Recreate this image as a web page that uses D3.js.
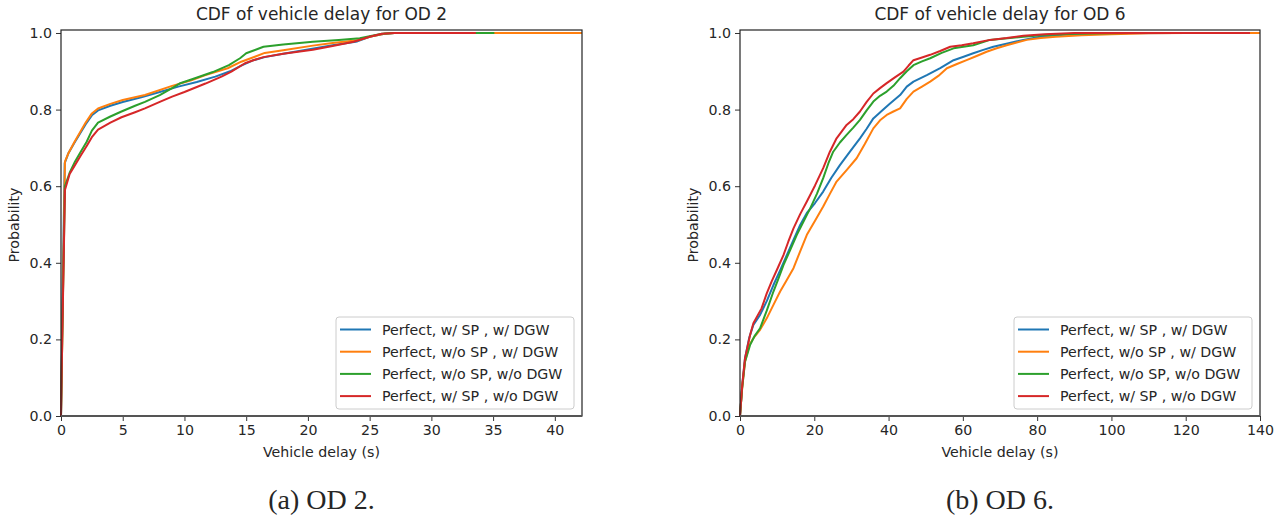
<!DOCTYPE html>
<html>
<head>
<meta charset="utf-8">
<script src="https://cdn.jsdelivr.net/npm/d3@7"></script>
<style>
  html, body { margin: 0; padding: 0; background: #fff; }
  svg { display: block; }
  text { fill: #262626; }
</style>
</head>
<body>
<svg id="fig" width="1281" height="521"></svg>
<script>
// Series labels and colours (shared by both panels)
const seriesNames = [
  "Perfect, w/ SP , w/ DGW",
  "Perfect, w/o SP , w/ DGW",
  "Perfect, w/o SP, w/o DGW",
  "Perfect, w/ SP , w/o DGW"
];
const seriesColors = ["#1f77b4", "#ff7f0e", "#2ca02c", "#d62728"];

// OD 2: empirical CDF points [delay (s), probability]
const od2SpDgw = [[0,0],[0.12,0.3],[0.3,0.66],[0.6,0.686],[1.1,0.714],[2.0,0.762],[2.5,0.785],[3.0,0.798],[4.0,0.81],[5.0,0.82],[6.5,0.832],[8.0,0.846],[9.5,0.86],[11,0.872],[12.5,0.886],[13.7,0.9],[14.6,0.915],[15.5,0.928],[16.5,0.937],[18,0.946],[20,0.957],[22,0.968],[24,0.978],[25,0.99],[26.2,0.998],[27,1.0],[36.4,1.0]];
const od2NoSpDgw = [[0,0],[0.15,0.3],[0.32,0.664],[0.6,0.686],[1.1,0.716],[2.0,0.766],[2.5,0.79],[3.0,0.803],[4.0,0.815],[5.0,0.825],[6.8,0.838],[9.0,0.862],[10.5,0.876],[11.7,0.89],[13.5,0.908],[14.6,0.925],[15.7,0.938],[16.5,0.948],[18,0.955],[20.4,0.967],[22,0.974],[24.2,0.982],[25,0.99],[26.2,0.998],[27,1.0],[42.2,1.0]];
const od2NoSpNoDgw = [[0,0],[0.15,0.3],[0.32,0.6],[0.7,0.635],[1.13,0.664],[1.6,0.69],[2.08,0.716],[2.5,0.745],[3.0,0.766],[4.0,0.782],[4.9,0.795],[6.0,0.81],[6.8,0.82],[8,0.838],[9.0,0.856],[9.6,0.868],[10.85,0.882],[12.3,0.898],[13.6,0.916],[14.5,0.934],[15.0,0.947],[16.4,0.964],[18,0.97],[20.4,0.977],[22.5,0.982],[24.2,0.986],[25.2,0.993],[26,0.998],[27,1.0],[35.1,1.0]];
const od2SpNoDgw = [[0,0],[0.1,0.2],[0.32,0.59],[0.7,0.632],[1.13,0.655],[1.6,0.68],[2.08,0.705],[2.5,0.728],[3.0,0.748],[4.0,0.766],[4.9,0.78],[6.0,0.793],[6.8,0.803],[8,0.82],[9.0,0.834],[10,0.846],[11.7,0.868],[13.0,0.886],[13.8,0.899],[14.9,0.921],[15.7,0.93],[16.4,0.937],[18,0.946],[20.4,0.956],[22,0.966],[23.7,0.977],[25,0.99],[26,0.998],[27,1.0],[33.6,1.0]];

// OD 6: empirical CDF points [delay (s), probability]
const od6SpDgw = [[0,0],[0.6,0.08],[1.35,0.151],[2.5,0.205],[3.6,0.238],[5.4,0.264],[7.2,0.3],[9.0,0.342],[10.8,0.38],[12.6,0.42],[14.4,0.46],[16.2,0.499],[18.0,0.53],[20.2,0.556],[22.4,0.586],[24.6,0.622],[26.9,0.655],[29.6,0.69],[32.3,0.725],[34.1,0.75],[35.9,0.777],[38.2,0.797],[40.4,0.816],[43.1,0.838],[44.9,0.86],[46.7,0.873],[50.3,0.89],[53.9,0.908],[57.5,0.929],[60.2,0.938],[62.8,0.947],[65.5,0.956],[68.2,0.964],[72.3,0.973],[76.3,0.982],[80.8,0.99],[88,0.996],[100,0.999],[118,1.0]];
const od6NoSpDgw = [[0,0],[0.6,0.075],[1.35,0.142],[2.5,0.185],[3.6,0.203],[5.4,0.225],[7.2,0.255],[9.0,0.29],[10.8,0.325],[12.6,0.355],[14.4,0.386],[16.2,0.43],[18.0,0.473],[20.2,0.51],[22.4,0.547],[24.2,0.58],[26.0,0.612],[28.7,0.642],[31.4,0.673],[33.6,0.71],[35.9,0.751],[37.7,0.772],[39.5,0.786],[41.3,0.795],[43.1,0.803],[44.9,0.828],[46.7,0.847],[49.0,0.86],[51.2,0.873],[53.4,0.888],[55.7,0.908],[58.4,0.919],[61.0,0.929],[63.7,0.94],[66.4,0.951],[69.1,0.96],[71.8,0.968],[74.5,0.975],[77.2,0.982],[81,0.987],[85,0.99],[92,0.994],[100,0.997],[110,0.999],[120,1.0],[140,1.0]];
const od6NoSpNoDgw = [[0,0],[0.6,0.075],[1.35,0.142],[2.7,0.185],[4.0,0.21],[5.4,0.229],[7.2,0.275],[9.0,0.325],[10.4,0.36],[11.7,0.394],[13.5,0.433],[15.3,0.473],[17.1,0.508],[18.9,0.542],[20.7,0.58],[22.4,0.621],[23.8,0.66],[25.1,0.69],[26.9,0.714],[28.7,0.734],[30.5,0.753],[32.3,0.773],[34.1,0.798],[35.9,0.821],[37.7,0.836],[39.5,0.847],[41.3,0.862],[43.1,0.882],[44.9,0.9],[46.7,0.916],[49.0,0.926],[51.2,0.934],[54.3,0.948],[57.5,0.96],[62.8,0.968],[67.3,0.982],[72,0.986],[76.3,0.99],[82,0.995],[90,0.998],[105,1.0]];
const od6SpNoDgw = [[0,0],[0.6,0.08],[1.35,0.151],[2.7,0.211],[3.6,0.242],[5.8,0.281],[7.2,0.32],[8.5,0.351],[10.1,0.385],[11.7,0.42],[13.0,0.455],[14.4,0.49],[16.2,0.527],[18.0,0.56],[20.2,0.602],[22.4,0.647],[24.2,0.69],[26.0,0.725],[28.7,0.76],[30.5,0.775],[32.3,0.795],[34.1,0.82],[35.9,0.842],[37.7,0.856],[39.5,0.869],[41.7,0.884],[44.0,0.899],[45.4,0.915],[46.7,0.929],[49.0,0.936],[51.2,0.943],[53.9,0.953],[56.6,0.964],[59.7,0.968],[62.8,0.973],[67.3,0.982],[71.8,0.987],[76.3,0.993],[82,0.997],[90,1.0],[137.3,1.0]];

// Axis ticks
const od2Ticks = [0, 5, 10, 15, 20, 25, 30, 35, 40];
const od6Ticks = [0, 20, 40, 60, 80, 100, 120, 140];
const probTicks = [0.0, 0.2, 0.4, 0.6, 0.8, 1.0];

const panels = [
  {
    title: "CDF of vehicle delay for OD 2",
    caption: "(a) OD 2.",
    xMax: 42.2,
    xTicks: od2Ticks,
    series: [od2SpDgw, od2NoSpDgw, od2NoSpNoDgw, od2SpNoDgw],
    left: 61, right: 582
  },
  {
    title: "CDF of vehicle delay for OD 6",
    caption: "(b) OD 6.",
    xMax: 140,
    xTicks: od6Ticks,
    series: [od6SpDgw, od6NoSpDgw, od6NoSpNoDgw, od6SpNoDgw],
    left: 740, right: 1260
  }
];

const plotTop = 30, plotBottom = 416;
const font = "'DejaVu Sans', sans-serif";
const svg = d3.select("#fig");

panels.forEach(p => {
  const x = d3.scaleLinear().domain([0, p.xMax]).range([p.left, p.right]);
  const y = d3.scaleLinear().domain([0, 1.0078]).range([plotBottom, plotTop]);
  const g = svg.append("g");

  // curves
  const line = d3.line().x(d => x(d[0])).y(d => y(d[1]));
  p.series.forEach((s, i) => {
    g.append("path")
      .datum(s)
      .attr("d", line)
      .attr("fill", "none")
      .attr("stroke", seriesColors[i])
      .attr("stroke-width", 2)
      .attr("stroke-linejoin", "round")
      .attr("stroke-linecap", "butt");
  });

  // axes
  const xAxis = d3.axisBottom(x).tickValues(p.xTicks).tickFormat(d3.format("d"))
    .tickSize(5).tickPadding(4);
  const yAxis = d3.axisLeft(y).tickValues(probTicks).tickFormat(d3.format(".1f"))
    .tickSize(5).tickPadding(4);

  const gx = g.append("g").attr("transform", `translate(0,${plotBottom})`).call(xAxis);
  const gy = g.append("g").attr("transform", `translate(${p.left},0)`).call(yAxis);
  [gx, gy].forEach(a => {
    a.select(".domain").remove();
    a.selectAll(".tick line").attr("stroke", "#333").attr("stroke-width", 1);
    a.selectAll(".tick text").attr("font-family", font).attr("font-size", 14.2).attr("fill", "#262626");
  });

  // frame
  g.append("rect")
    .attr("x", p.left).attr("y", plotTop)
    .attr("width", p.right - p.left).attr("height", plotBottom - plotTop)
    .attr("fill", "none").attr("stroke", "#222").attr("stroke-width", 1.2);
  g.append("line")
    .attr("x1", p.left).attr("x2", p.right)
    .attr("y1", plotBottom).attr("y2", plotBottom)
    .attr("stroke", "#555").attr("stroke-width", 2);

  const cx = (p.left + p.right) / 2;
  g.append("text").attr("x", cx).attr("y", 20)
    .attr("text-anchor", "middle").attr("font-family", font).attr("font-size", 17)
    .text(p.title);
  g.append("text").attr("x", cx).attr("y", 457)
    .attr("text-anchor", "middle").attr("font-family", font).attr("font-size", 14.2)
    .text("Vehicle delay (s)");
  g.append("text")
    .attr("transform", `translate(${p.left - 42},${(plotTop + plotBottom) / 2 + 2}) rotate(-90)`)
    .attr("text-anchor", "middle").attr("font-family", font).attr("font-size", 14.2)
    .text("Probability");

  // legend
  const lg = g.append("g").attr("transform", `translate(${p.right - 246},317)`);
  lg.append("rect").attr("width", 238).attr("height", 92).attr("rx", 3)
    .attr("fill", "#fff").attr("fill-opacity", 0.8)
    .attr("stroke", "#cccccc").attr("stroke-width", 1);
  seriesNames.forEach((name, i) => {
    const ry = 12.5 + i * 22.2;
    lg.append("line").attr("x1", 4).attr("x2", 35).attr("y1", ry).attr("y2", ry)
      .attr("stroke", seriesColors[i]).attr("stroke-width", 2);
    lg.append("text").attr("x", 46).attr("y", ry + 5)
      .attr("font-family", font).attr("font-size", 14.2).text(name);
  });

  // caption
  svg.append("text").attr("x", cx).attr("y", 509)
    .attr("text-anchor", "middle")
    .attr("font-family", "'Liberation Serif', 'DejaVu Serif', serif")
    .attr("font-size", 28).attr("fill", "#000")
    .text(p.caption);
});
</script>
</body>
</html>
